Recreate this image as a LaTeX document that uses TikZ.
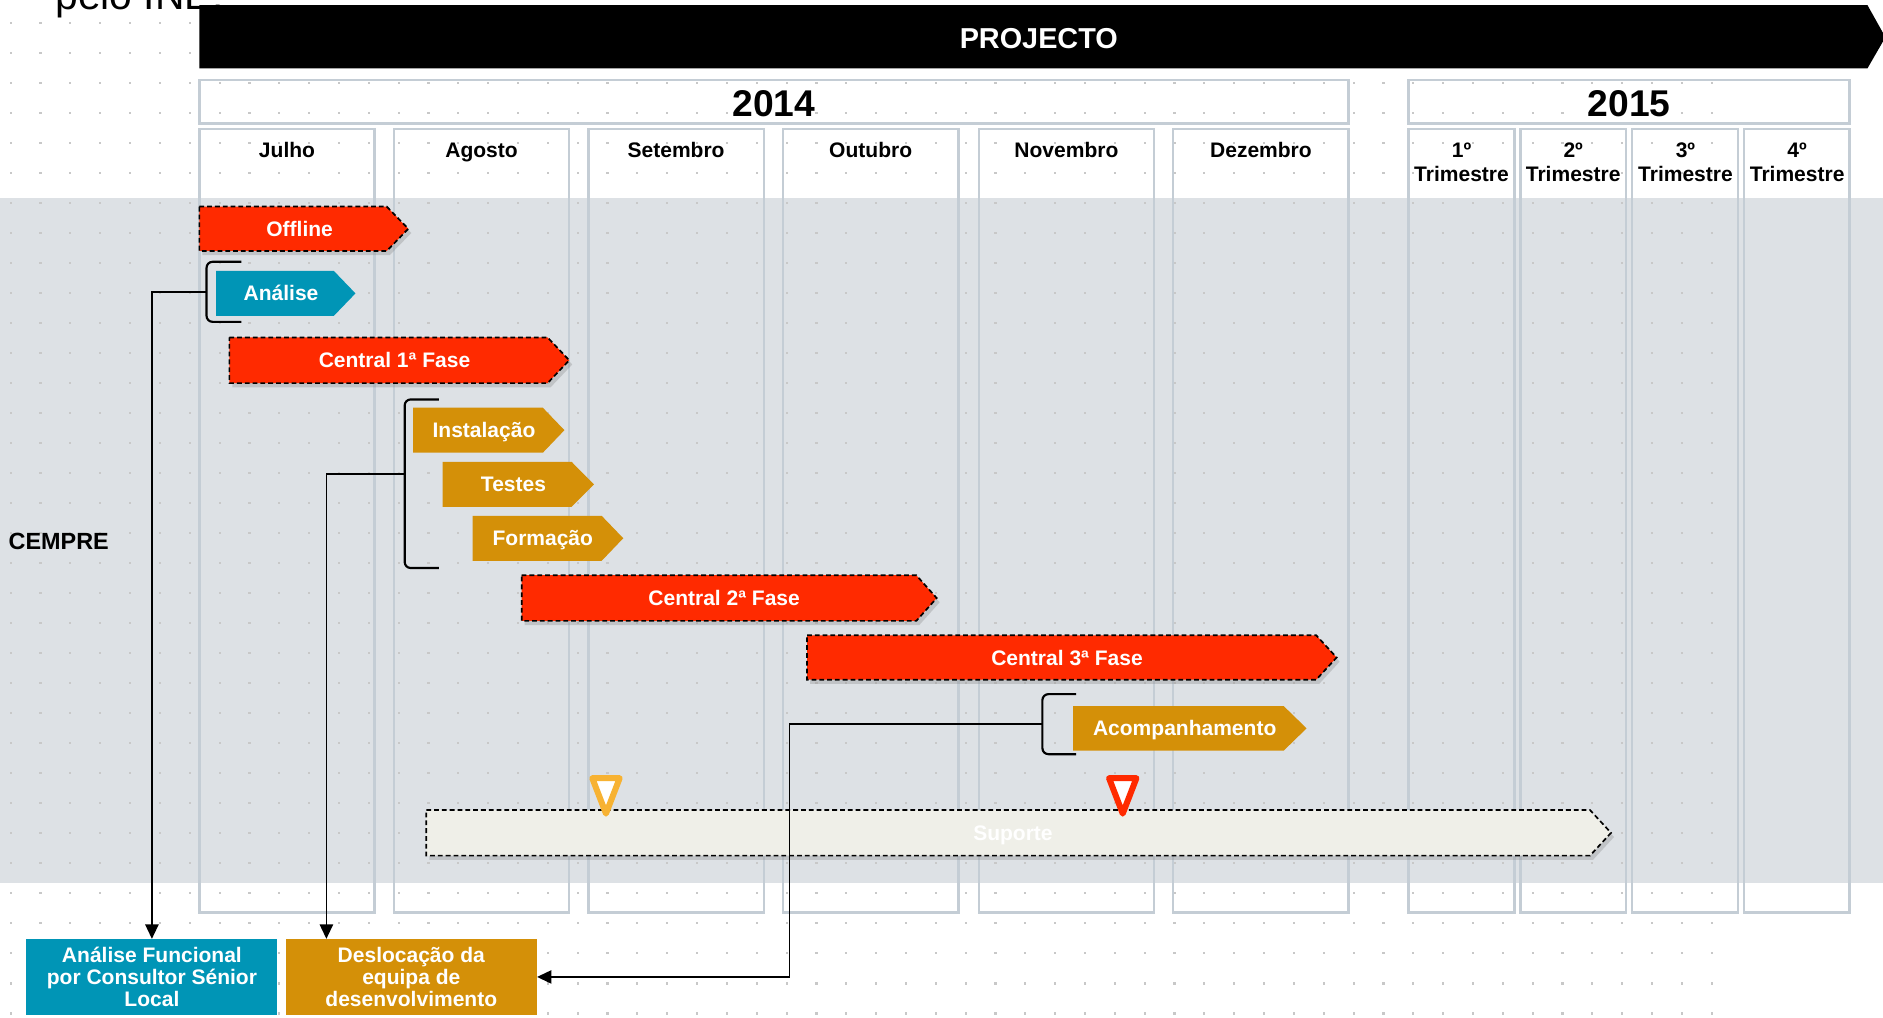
\documentclass[tikz,border=0pt]{standalone}
\usepackage{fontspec}
\setmainfont{Liberation Sans}
\usetikzlibrary{shadows,arrows.meta}

\definecolor{cred}{RGB}{255,42,0}
\definecolor{cblue}{RGB}{0,149,182}
\definecolor{cgold}{RGB}{212,144,8}
\definecolor{cband}{RGB}{221,225,229}
\definecolor{ccol}{RGB}{196,205,213}
\definecolor{csup}{RGB}{239,239,232}
\definecolor{ctri}{RGB}{247,178,50}
\definecolor{cdot}{RGB}{200,200,200}

\tikzset{
  colbox/.style={draw=ccol, line width=2pt},
  dashbar/.style={draw=black, line width=1.4pt, dash pattern=on 4pt off 2.5pt,
    drop shadow={shadow xshift=2.5pt, shadow yshift=-3.5pt, opacity=0.3}},
  redbar/.style={dashbar, fill=cred},
  supbar/.style={dashbar, fill=csup},
  bluebar/.style={fill=cblue},
  goldbar/.style={fill=cgold},
  bartext/.style={text=white, font=\fontsize{17.5}{18}\selectfont\bfseries, anchor=base, inner sep=0pt},
  hdr/.style={text=black, font=\fontsize{17.5}{20}\selectfont\bfseries, anchor=base, inner sep=0pt},
  yeartext/.style={text=black, font=\fontsize{31}{34}\selectfont\bfseries, anchor=base, inner sep=0pt},
  brk/.style={draw=black, line width=1.8pt, rounded corners=5pt},
  conn/.style={draw=black, line width=1.5pt},
  arr/.style={conn, -{Triangle[length=12pt,width=11pt]}},
  milestone/.style={line width=5pt, line join=round, fill=white},
  outbox/.style={text=white, font=\fontsize{17.5}{18}\selectfont\bfseries, align=center,
    inner sep=0pt, minimum width=209pt, minimum height=63pt},
}

\begin{document}
\begin{tikzpicture}[x=1pt, y=-1pt]
\useasboundingbox (0,0) rectangle (1568,847);
\clip (0,0) rectangle (1568,847);
\fill[white] (0,0) rectangle (1568,847);

% gray band
\fill[cband] (0,165) rectangle (1568,735);

% dotted grid
\foreach \i in {0,...,57}{
  \foreach \j in {0,...,33}{
    \fill[cdot] ({8.9+24.85*\i-0.9},{18.9+25*\j-0.9}) rectangle ++(1.8,1.8);
  }
}

% title fragment
\node[anchor=base west, inner sep=0pt, font=\fontsize{34}{40}\selectfont] (pelo) at (46,7.5) {pelo INE.};

% banner
\fill[black] (166,4.2) -- (1555,4.2) -- (1570,31) -- (1555,57) -- (166,57) -- cycle;
\node[text=white, font=\fontsize{24}{28}\selectfont\bfseries, anchor=base, inner sep=0pt] (proj) at (865,40.3) {PROJECTO};

% year boxes
\draw[colbox] (166,66.6) rectangle (1123,102.7);
\draw[colbox] (1173,66.6) rectangle (1540,102.7);
\node[yeartext] (y14) at (644.5,97.3) {2014};
\node[yeartext] (y15) at (1356.5,97.3) {2015};

% columns
\foreach \a/\b in {166/312, 328/474, 490/636, 652/798, 815/961, 977/1123, 1173/1261, 1266/1354, 1359/1447, 1452/1540}{
  \draw[colbox] (\a,107.5) rectangle (\b,760);
}

% column labels
\node[hdr] (m1) at (239,131.5) {Julho};
\node[hdr] (m2) at (401,131.5) {Agosto};
\node[hdr] (m3) at (563,131.5) {Setembro};
\node[hdr] (m4) at (725,131.5) {Outubro};
\node[hdr] (m5) at (888,131.5) {Novembro};
\node[hdr] (m6) at (1050,131.5) {Dezembro};
\node[hdr] (q1a) at (1217,131) {1º};
\node[hdr] (q1b) at (1217,151.5) {Trimestre};
\node[hdr] (q2a) at (1310,131) {2º};
\node[hdr] (q2b) at (1310,151.5) {Trimestre};
\node[hdr] (q3a) at (1403.5,131) {3º};
\node[hdr] (q3b) at (1403.5,151.5) {Trimestre};
\node[hdr] (q4a) at (1496.5,131) {4º};
\node[hdr] (q4b) at (1496.5,151.5) {Trimestre};

% row label
\node[anchor=base west, inner sep=0pt, font=\fontsize{19.5}{22}\selectfont\bfseries] (cempre) at (7,457.5) {CEMPRE};

% bars
\path[redbar] (166,172) -- (322,172) -- (340,190.5) -- (322,209) -- (166,209) -- cycle;
\node[bartext] (offline) at (249.5,196.8) {Offline};

\path[bluebar] (180,225.6) -- (278,225.6) -- (296,244.3) -- (278,263) -- (180,263) -- cycle;
\node[bartext] (analise) at (234,250.6) {Análise};

\path[redbar] (191,281) -- (456,281) -- (474,300) -- (456,319) -- (191,319) -- cycle;
\node[bartext] (c1) at (328.5,306.3) {Central 1ª Fase};

\path[goldbar] (344,339.5) -- (452,339.5) -- (470,358.2) -- (452,377) -- (344,377) -- cycle;
\node[bartext] (inst) at (403,364.5) {Instalação};

\path[goldbar] (368.6,384.6) -- (476,384.6) -- (494.6,403.3) -- (476,422) -- (368.6,422) -- cycle;
\node[bartext] (testes) at (427.6,409.6) {Testes};

\path[goldbar] (393.6,429.5) -- (501,429.5) -- (519,448.2) -- (501,467) -- (393.6,467) -- cycle;
\node[bartext] (form) at (452,454.5) {Formação};

\path[redbar] (434.4,479) -- (763,479) -- (780,498) -- (763,517) -- (434.4,517) -- cycle;
\node[bartext] (c2) at (603,504.3) {Central 2ª Fase};

\path[redbar] (672,529) -- (1096,529) -- (1113,547.5) -- (1096,566) -- (672,566) -- cycle;
\node[bartext] (c3) at (888.5,553.8) {Central 3ª Fase};

\path[goldbar] (893.5,588) -- (1069,588) -- (1088,606.5) -- (1069,625) -- (893.5,625) -- cycle;
\node[bartext] (acomp) at (986.5,612.8) {Acompanhamento};

\path[supbar] (355,674.5) -- (1324,674.5) -- (1341.5,693.5) -- (1324,712.5) -- (355,712.5) -- cycle;
\node[bartext] (sup) at (843.5,699.8) {Suporte};

% milestones
\draw[milestone, draw=ctri] (493.2,648) -- (516,648) -- (504.6,677.5) -- cycle;
\draw[milestone, draw=cred] (923.5,648) -- (946.3,648) -- (934.9,677.5) -- cycle;

% output boxes
\node[outbox, fill=cblue] (af) at (126.5,813.5) {Análise Funcional\\por Consultor Sénior\\Local};
\node[outbox, fill=cgold] (dl) at (342.5,813.5) {Deslocação da\\equipa de\\desenvolvimento};

% brackets
\draw[brk] (201,218) -- (172,218) -- (172,268) -- (201,268);
\draw[brk] (365.5,332.6) -- (337,332.6) -- (337,473) -- (365.5,473);
\draw[brk] (896,578) -- (868,578) -- (868,628) -- (896,628);
\coordinate (b1) at (172,243);
\coordinate (b2) at (337,395);
\coordinate (b3) at (868,603);

% connectors
\draw[arr] (b1) -| (af.north);
\draw[arr] (b2) -| ([xshift=34pt]dl.north west);
\draw[arr] (b3) -- (657.5,603) |- (dl.east);
\end{tikzpicture}
\end{document}
